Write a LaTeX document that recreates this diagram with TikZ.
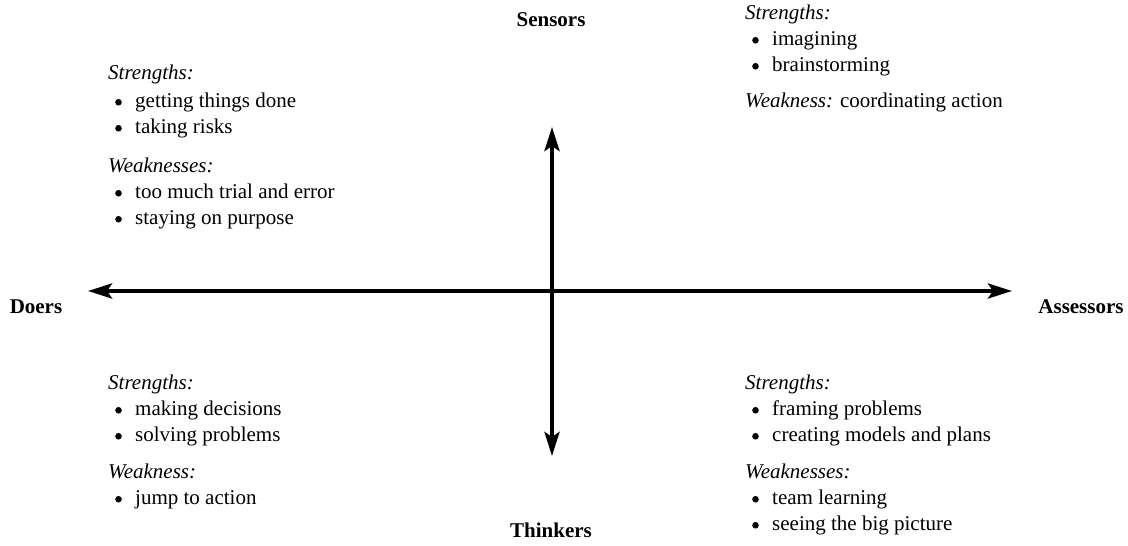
\documentclass[tikz,border=0pt]{standalone}
\usepackage{fontspec}
\setmainfont{Liberation Serif}
\usetikzlibrary{arrows.meta}
% bullet item: a round dot, then the text
\newcommand\bul[1]{\hspace*{7pt}\makebox[20pt][l]{\raisebox{2.2pt}{\tikz\fill (0,0) circle (3.3pt);}}#1}
\begin{document}
\begin{tikzpicture}[x=1pt,y=-1pt,
  axis/.style={line width=4pt,{Stealth[length=24pt,width=15pt,inset=5pt]}-{Stealth[length=24pt,width=15pt,inset=5pt]}},
  pole/.style={font=\fontsize{21}{26}\selectfont\bfseries,inner sep=0pt},
  block/.style={font=\fontsize{21}{26}\selectfont,align=left,anchor=north west,inner sep=0pt}]
\useasboundingbox (0,0) rectangle (1128,546);
% compass labels
\node[pole] (sensors) at (551,20) {Sensors};
\node[pole] (thinkers) at (551,530) {Thinkers};
\node[pole] (doers) at (36,307) {Doers};
\node[pole] (assessors) at (1081,307) {Assessors};
% axes
\coordinate (west) at (88,291);
\coordinate (east) at (1012,291);
\coordinate (north) at (552,127);
\coordinate (south) at (552,456);
\draw[axis] (west) -- (east);
\draw[axis] (north) -- (south);
% quadrant notes
\node[block] (doersnote) at (108,65) {\textit{Strengths:}\\[2pt]
\bul{getting things done}\\
\bul{taking risks}\\[13pt]
\textit{Weaknesses:}\\
\bul{too much trial and error}\\
\bul{staying on purpose}};
\node[block] (sensorsnote) at (745,5) {\textit{Strengths:}\\
\bul{imagining}\\
\bul{brainstorming}\\[10pt]
\textit{Weakness:} coordinating action};
\node[block] (thinkersnote) at (108,375) {\textit{Strengths:}\\
\bul{making decisions}\\
\bul{solving problems}\\[11pt]
\textit{Weakness:}\\
\bul{jump to action}};
\node[block] (assessorsnote) at (745,375) {\textit{Strengths:}\\
\bul{framing problems}\\
\bul{creating models and plans}\\[11pt]
\textit{Weaknesses:}\\
\bul{team learning}\\
\bul{seeing the big picture}};
\end{tikzpicture}
\end{document}
